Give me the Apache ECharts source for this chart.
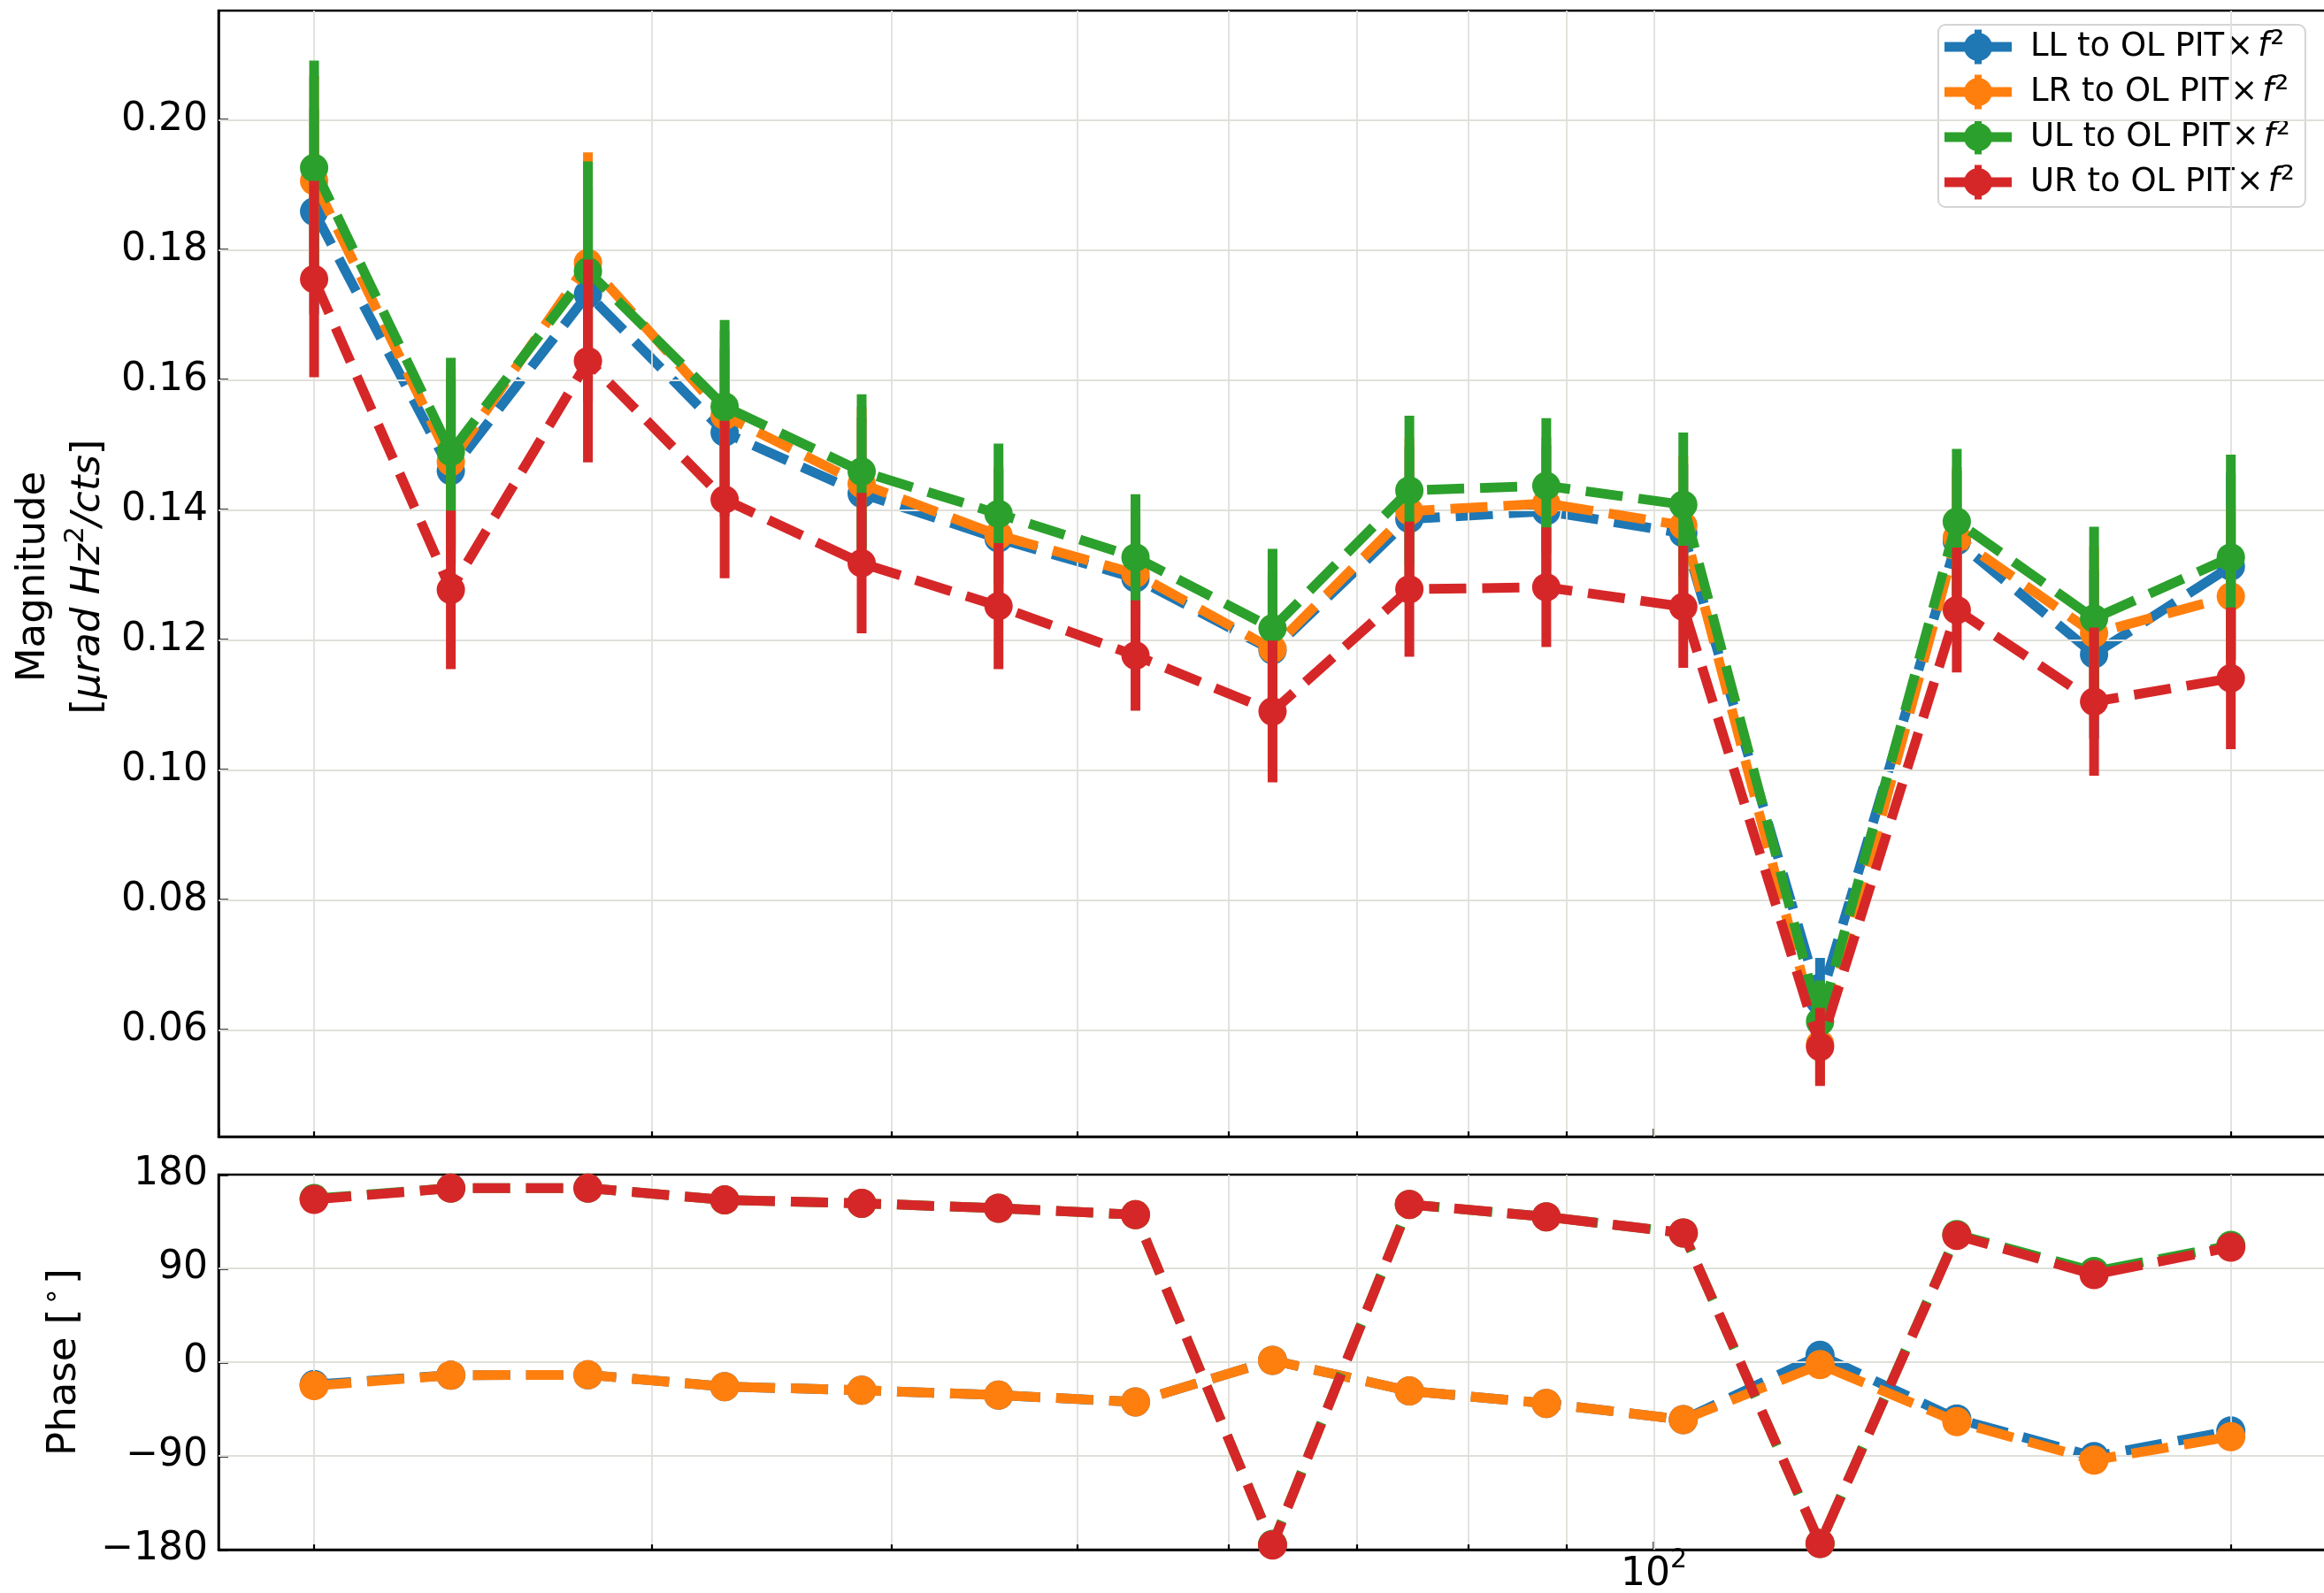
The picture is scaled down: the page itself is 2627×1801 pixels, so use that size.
<!DOCTYPE html>
<html>
<head>
<meta charset="utf-8">
<script src="https://cdn.jsdelivr.net/npm/echarts@6/dist/echarts.min.js"></script>
<style>
    html, body { margin: 0; padding: 0; background: #fff; }
    #chart { width: 2627px; height: 1801px; }
</style>
</head>
<body>
<div id="chart"></div>
<script>
// frequency points [Hz]
var freq = [20, 23.57, 27.79, 32.75, 38.61, 45.51, 53.65, 63.25, 74.55, 87.88, 103.6, 122.1, 143.9, 169.7, 200];

var names = ['LL to OL', 'LR to OL', 'UL to OL', 'UR to OL'];
var colors = ['#1f77b4', '#ff7f0e', '#2ca02c', '#d62728'];

// magnitude [urad Hz^2/cts]
var magLL = [0.1859, 0.1460, 0.1732, 0.1519, 0.1425, 0.1356, 0.1295, 0.1184, 0.1386, 0.1398, 0.1364, 0.0645, 0.1352, 0.1178, 0.1313];
var magLR = [0.1906, 0.1474, 0.1780, 0.1545, 0.1440, 0.1361, 0.1302, 0.1186, 0.1398, 0.1410, 0.1376, 0.0578, 0.1357, 0.1210, 0.1267];
var magUL = [0.1926, 0.1489, 0.1767, 0.1559, 0.1459, 0.1394, 0.1327, 0.1218, 0.1430, 0.1437, 0.1408, 0.0613, 0.1382, 0.1233, 0.1327];
var magUR = [0.1755, 0.1277, 0.1629, 0.1416, 0.1318, 0.1252, 0.1176, 0.1090, 0.1278, 0.1281, 0.1251, 0.0574, 0.1246, 0.1105, 0.1141];

// magnitude uncertainty
var errLL = [0.0158, 0.0142, 0.0165, 0.0129, 0.0117, 0.0106, 0.0095, 0.0118, 0.0111, 0.0101, 0.0106, 0.0066, 0.0108, 0.0130, 0.0144];
var errLR = [0.0162, 0.0143, 0.0170, 0.0131, 0.0118, 0.0106, 0.0095, 0.0119, 0.0112, 0.0102, 0.0107, 0.0062, 0.0109, 0.0133, 0.0139];
var errUL = [0.0165, 0.0145, 0.0169, 0.0133, 0.0119, 0.0108, 0.0097, 0.0122, 0.0115, 0.0104, 0.0111, 0.0063, 0.0112, 0.0141, 0.0158];
var errUR = [0.0151, 0.0122, 0.0156, 0.0121, 0.0108, 0.0097, 0.0085, 0.0109, 0.0104, 0.0092, 0.0094, 0.0060, 0.0096, 0.0114, 0.0109];

// phase [deg]
var phaseLL = [-21.5, -12.5, -12.2, -23.5, -26.9, -31.7, -38.2, 1.7, -27.7, -39.6, -55.2, 6.5, -54.5, -90.6, -66.0];
var phaseLR = [-22.6, -12.5, -12.2, -23.5, -26.9, -31.7, -38.2, 1.7, -27.7, -39.6, -55.2, -2.3, -57.2, -94.0, -71.5];
var phaseUL = [157.0, 167.0, 167.0, 155.7, 152.5, 147.7, 141.5, -175.0, 151.4, 139.5, 124.0, -174.1, 122.5, 87.0, 112.0];
var phaseUR = [156.2, 167.0, 167.0, 155.7, 152.5, 147.7, 141.5, -175.5, 151.4, 139.5, 124.0, -174.1, 121.7, 84.0, 110.4];

var magTicks = [0.06, 0.08, 0.10, 0.12, 0.14, 0.16, 0.18, 0.20];
var phaseTicks = [-180, -90, 0, 90, 180];
var gridFreqs = [20, 30, 40, 50, 60, 70, 80, 90, 100, 200];

var mags = [magLL, magLR, magUL, magUR];
var errs = [errLL, errLR, errUL, errUR];
var phases = [phaseLL, phaseLR, phaseUL, phaseUR];

var FONT = 'DejaVu Sans';
var GRIDC = '#e0e0da';
var magMin = 0.0436, magMax = 0.2168;

function pairs(ys) {
    return freq.map(function (f, i) { return [f, ys[i]]; });
}

// invisible series carrying the grid lines and minor ticks
function helper(gi, ys, hLines, yMin, tickLen) {
    var d = [];
    gridFreqs.forEach(function (f) {
        d.push({xAxis: f, lineStyle: {color: GRIDC, width: 1.8, type: 'solid'}});
    });
    hLines.forEach(function (v) {
        d.push({yAxis: v, lineStyle: {color: GRIDC, width: 2, type: 'solid'}});
    });
    gridFreqs.forEach(function (f) {
        if (f === 100) return;
        var st = {color: '#000', width: 2.2, type: 'solid'};
        d.push([{coord: [f, yMin], lineStyle: st}, {coord: [f, yMin + tickLen], lineStyle: st}]);
    });
    return {
        type: 'line', xAxisIndex: gi, yAxisIndex: gi, z: 1, silent: true,
        data: pairs(ys), symbol: 'none', lineStyle: {opacity: 0},
        markLine: {silent: true, symbol: 'none', animation: false, label: {show: false},
            emphasis: {disabled: true}, data: d}
    };
}

var series = [];
series.push(helper(0, magLL, magTicks, magMin, 0.0008));
series.push(helper(1, phaseLL, [-90, 0, 90], -180, 5));

names.forEach(function (n, k) {
    var c = colors[k];
    // error bars
    series.push({
        type: 'custom', xAxisIndex: 0, yAxisIndex: 0, z: 3 + 2 * k, silent: true,
        data: freq.map(function (f, i) { return [f, mags[k][i] - errs[k][i], mags[k][i] + errs[k][i]]; }),
        encode: {x: 0, y: [1, 2]},
        renderItem: function (params, api) {
            var lo = api.coord([api.value(0), api.value(1)]);
            var hi = api.coord([api.value(0), api.value(2)]);
            return {type: 'line', shape: {x1: lo[0], y1: lo[1], x2: hi[0], y2: hi[1]},
                style: {stroke: c, lineWidth: 11, lineCap: 'butt'}};
        }
    });
    series.push({
        name: n, type: 'line', xAxisIndex: 0, yAxisIndex: 0, z: 4 + 2 * k,
        data: pairs(mags[k]),
        symbol: 'circle', symbolSize: 32, itemStyle: {color: c},
        lineStyle: {color: c, width: 11, type: [42, 18], cap: 'butt'}
    });
    series.push({
        name: n, type: 'line', xAxisIndex: 1, yAxisIndex: 1, z: 4 + 2 * k,
        data: pairs(phases[k]),
        symbol: 'circle', symbolSize: 33, itemStyle: {color: c},
        lineStyle: {color: c, width: 11, type: [42, 18], cap: 'butt'}
    });
});

var axisLine = {show: true, onZero: false, lineStyle: {color: '#000', width: 2.5}};
var tickStyle = {color: '#000', width: 2.5};
var labelBase = {fontFamily: FONT, fontSize: 44, color: '#000'};

function xAxis(gi, showLabel) {
    return {
        gridIndex: gi, type: 'log', logBase: 10, min: 17.83, max: 224.4,
        axisLine: axisLine,
        axisTick: {show: true, inside: true, length: 9, lineStyle: tickStyle},
        splitLine: {show: false},
        axisLabel: {
            show: showLabel, margin: 4, showMinLabel: false, showMaxLabel: false,
            fontFamily: FONT, fontSize: 44, color: '#000', lineHeight: 50,
            formatter: function (v) { return Math.abs(v - 100) < 1e-6 ? '10{s|2}' : ''; },
            rich: {s: {fontFamily: FONT, fontSize: 30, padding: [0, 0, 34, 0], lineHeight: 50}}
        }
    };
}

var option = {
    animation: false,
    backgroundColor: '#fff',
    grid: [
        {left: 247, top: 12, right: -3, height: 1273, show: true, borderColor: '#000', borderWidth: 2.5,
            containLabel: false, outerBoundsMode: 'none'},
        {left: 247, top: 1328, right: -3, height: 424, show: true, borderColor: '#000', borderWidth: 2.5,
            containLabel: false, outerBoundsMode: 'none'}
    ],
    xAxis: [xAxis(0, false), xAxis(1, true)],
    yAxis: [
        {
            gridIndex: 0, type: 'value', min: magMin, max: magMax,
            axisLine: axisLine,
            axisTick: {show: true, inside: true, length: 11, lineStyle: tickStyle, customValues: magTicks},
            axisLabel: Object.assign({margin: 12, customValues: magTicks,
                formatter: function (v) { return v.toFixed(2); }}, labelBase),
            splitLine: {show: false}
        },
        {
            gridIndex: 1, type: 'value', min: -180, max: 180, interval: 90,
            axisLine: axisLine,
            axisTick: {show: true, inside: true, length: 11, lineStyle: tickStyle},
            axisLabel: Object.assign({margin: 12,
                formatter: function (v) { return v < 0 ? '\u2212' + Math.abs(v) : String(v); }}, labelBase),
            splitLine: {show: false}
        }
    ],
    legend: {
        data: names, orient: 'vertical', left: 2191, top: 28,
        padding: [5, 12, 8, 7], itemGap: 11, itemWidth: 76, itemHeight: 39,
        icon: 'path://M0 14H76V25H0Z M34 0H42V39H34Z M22 19.5A16 16 0 1 1 54 19.5A16 16 0 1 1 22 19.5Z',
        itemStyle: {borderWidth: 0},
        selectedMode: false,
        backgroundColor: 'rgba(255,255,255,0.8)', borderColor: '#d4d4d4', borderWidth: 2, borderRadius: 8,
        formatter: function (n) { return n + ' PIT{x|\u00d7}{i|f}{s|\u00b2}'; },
        textStyle: {
            fontFamily: FONT, fontSize: 37, color: '#000', lineHeight: 39, height: 39, padding: [0, 0, 0, 16],
            rich: {
                x: {fontFamily: FONT, fontSize: 37, lineHeight: 39, padding: [0, 2, 0, 2]},
                i: {fontFamily: FONT, fontSize: 37, lineHeight: 39, fontStyle: 'italic', padding: [0, 1, 0, 3]},
                s: {fontFamily: FONT, fontSize: 40, lineHeight: 39}
            }
        }
    },
    graphic: [
        {type: 'text', x: 38, y: 652, rotation: Math.PI / 2, silent: true,
            style: {text: 'Magnitude', fontFamily: FONT, fontSize: 45, fill: '#000',
                align: 'center', verticalAlign: 'middle', textAlign: 'center', textVerticalAlign: 'middle'}},
        {type: 'text', x: 100, y: 652, rotation: Math.PI / 2, silent: true,
            style: {text: '[{i|\u03bcrad Hz}{s|2}{i|/cts}]', fontFamily: FONT, fontSize: 45, fill: '#000', lineHeight: 54,
                align: 'center', verticalAlign: 'middle', textAlign: 'center', textVerticalAlign: 'middle',
                rich: {
                    i: {fontFamily: FONT, fontSize: 45, fontStyle: 'italic', fill: '#000'},
                    s: {fontFamily: FONT, fontSize: 31, fill: '#000', padding: [0, 0, 28, 0]}
                }}},
        {type: 'text', x: 73, y: 1540, rotation: Math.PI / 2, silent: true,
            style: {text: 'Phase [{s|\u2218}]', fontFamily: FONT, fontSize: 45, fill: '#000', lineHeight: 54,
                align: 'center', verticalAlign: 'middle', textAlign: 'center', textVerticalAlign: 'middle',
                rich: {s: {fontFamily: FONT, fontSize: 32, fill: '#000', padding: [0, 4, 26, 4]}}}}
    ],
    series: series
};

var myChart = echarts.init(document.getElementById('chart'));
myChart.setOption(option);
</script>
</body>
</html>
